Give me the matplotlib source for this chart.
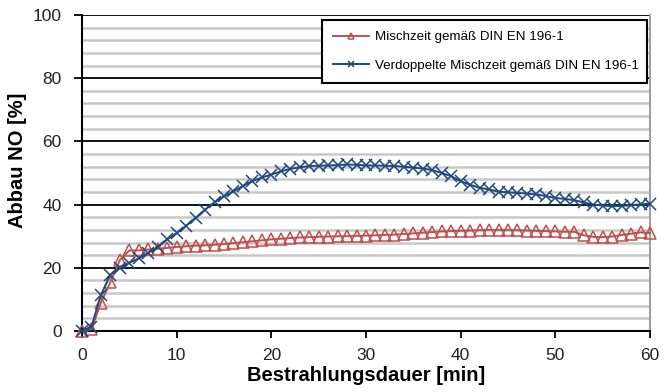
import numpy as np
import matplotlib.pyplot as plt
from matplotlib.ticker import MultipleLocator

plt.rcParams['font.family'] = ['Liberation Sans', 'DejaVu Sans']

# Bestrahlungsdauer in Minuten
t = np.arange(0, 61)

# Abbau NO [%] - Mischzeit gemäß DIN EN 196-1
mischzeit = [0, 0.5, 9, 15.5, 22.5, 25.5, 25.5, 25.8, 26, 26.3,
             26.6, 26.8, 27, 27.1, 27.3, 27.5, 27.8, 28.1, 28.4, 28.7,
             29, 29.2, 29.4, 29.6, 29.7, 29.8, 29.9, 30, 30, 30.1,
             30.2, 30.3, 30.4, 30.5, 30.7, 30.9, 31.1, 31.3, 31.5, 31.6,
             31.7, 31.8, 31.9, 32, 32, 32, 31.9, 31.8, 31.7, 31.6,
             31.5, 31.4, 31.4, 30.3, 29.8, 29.7, 29.9, 30.4, 30.8, 31.2,
             31]

# Abbau NO [%] - Verdoppelte Mischzeit
verdoppelt = [0, 1.4, 11.4, 17.8, 20, 21.6, 23, 24.7, 26.6, 29,
              31, 33.3, 35.8, 38.4, 40.8, 42.6, 44.2, 45.9, 47.4, 48.6,
              49.5, 50.5, 51.3, 51.8, 52.2, 52.3, 52.4, 52.5, 52.7, 52.6,
              52.4, 52.4, 52.3, 52.2, 52, 51.7, 51.4, 50.9, 50, 49,
              47.4, 46.3, 45.3, 44.8, 44.1, 43.9, 43.7, 43.5, 43.2, 42.7,
              42.1, 41.8, 41.4, 40.7, 40, 39.7, 39.5, 39.6, 39.8, 40.1,
              40.3]

fig = plt.figure(figsize=(6.65, 3.92), dpi=100)
ax = fig.add_axes([0.1233, 0.1556, 0.8541, 0.8061])

ax.plot(t, mischzeit, color='#C0504D', lw=1.4, marker='^', ms=8.5,
        mfc='none', mec='#C0504D', mew=1.1, clip_on=False, zorder=4,
        label='Mischzeit gemäß DIN EN 196-1')
ax.plot(t, verdoppelt, color='#1F497D', lw=1.4, marker='x', ms=8.5,
        mew=1.1, clip_on=False, zorder=5,
        label='Verdoppelte Mischzeit gemäß DIN EN 196-1')

ax.set_xlim(0, 60)
ax.set_ylim(0, 100)
ax.xaxis.set_major_locator(MultipleLocator(10))
ax.yaxis.set_major_locator(MultipleLocator(20))
ax.yaxis.set_minor_locator(MultipleLocator(4))

ax.grid(axis='y', which='minor', color='#C8C8C8', lw=1.8)
ax.grid(axis='y', which='major', color='black', lw=1.3)
ax.set_axisbelow(True)

ax.tick_params(axis='both', which='major', direction='out', width=1.3,
               labelsize=12.5, color='black', labelcolor='#222222')
ax.tick_params(axis='x', which='major', length=5, pad=7.5)
ax.tick_params(axis='y', which='major', length=6, pad=8.5)
ax.tick_params(axis='y', which='minor', length=0)

ax.spines['top'].set_visible(False)
ax.spines['right'].set_color('#A0A0A0')
ax.spines['right'].set_linewidth(1.5)
ax.spines['left'].set_linewidth(1.5)
ax.spines['bottom'].set_linewidth(1.5)

ax.set_xlabel('Bestrahlungsdauer [min]', fontsize=14.5, fontweight='bold')
ax.set_ylabel('Abbau NO [%]', fontsize=14.5, fontweight='bold')
ax.xaxis.set_label_coords(0.5, -0.112)
ax.yaxis.set_label_coords(-0.097, 0.541)

leg = ax.legend(loc='upper left', bbox_to_anchor=(0.4225, 0.5, 0.5722, 0.485),
                mode='expand', fontsize=9.6, frameon=True, fancybox=False,
                edgecolor='black', framealpha=1, labelspacing=1.2,
                handlelength=2.7, handletextpad=0.45, borderpad=0.85,
                markerscale=0.5, borderaxespad=0)
leg.get_frame().set_linewidth(1.5)

fig.savefig('out.png', dpi=100)
